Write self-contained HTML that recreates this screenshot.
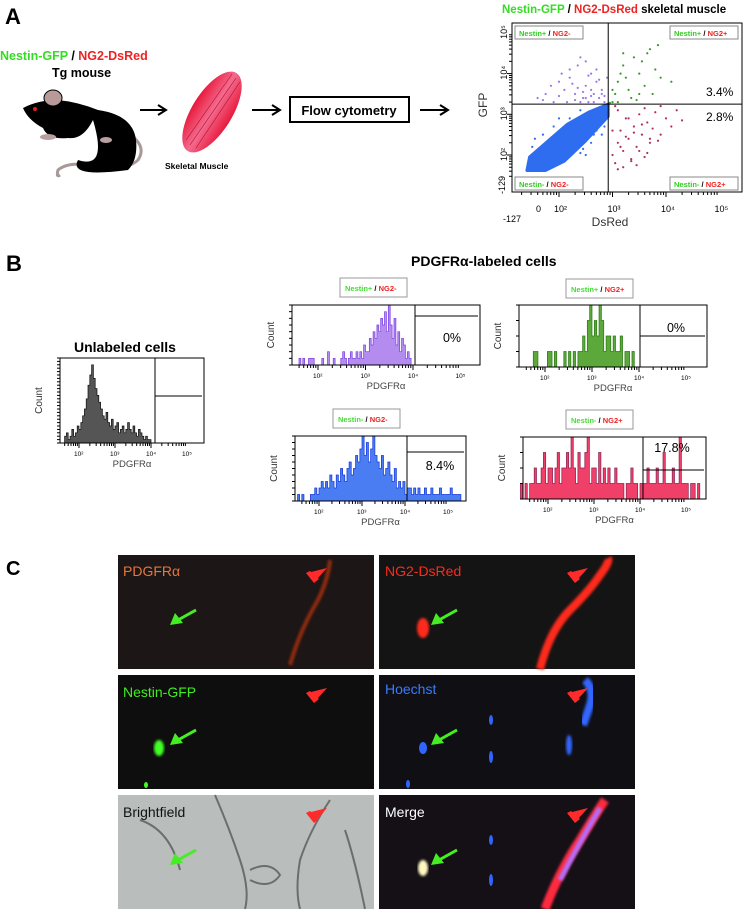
<!DOCTYPE html>
<html><head><meta charset="utf-8">
<style>
html,body{margin:0;padding:0;background:#fff;}
svg{display:block;font-family:"Liberation Sans",Arial,sans-serif;}
.b{font-weight:bold;}
</style></head>
<body>
<svg id="fig" width="750" height="909" viewBox="0 0 750 909" xmlns="http://www.w3.org/2000/svg">
<defs>
<filter id="blur2"><feGaussianBlur stdDeviation="2"/></filter>
<filter id="blur1"><feGaussianBlur stdDeviation="1.2"/></filter>
<linearGradient id="mus" x1="0" y1="0" x2="1" y2="0"><stop offset="0" stop-color="#e8193c"/><stop offset="0.5" stop-color="#f36b8e"/><stop offset="1" stop-color="#e8193c"/></linearGradient>
</defs>

<!-- Panel A -->
<text x="5" y="24" font-size="22" class="b">A</text>
<text x="0" y="60" font-size="12.5" class="b"><tspan fill="#33dd22">Nestin-GFP</tspan><tspan fill="#000"> / </tspan><tspan fill="#ee2222">NG2-DsRed</tspan></text>
<text x="52" y="77" font-size="12.5" class="b">Tg mouse</text>
<g transform="translate(-2,20)">
  <path d="M128,112 Q150,125 140,140 Q128,152 90,145 Q70,142 60,150 Q58,158 62,155" fill="none" stroke="#a89898" stroke-width="3"/>
  <path d="M95,100 Q110,150 80,140 Q70,158 130,150 Q140,140 138,120 Q135,95 100,90 Q80,82 60,80 Q40,80 25,88 Q30,100 45,108 Q50,120 70,118 Q85,120 95,100Z" fill="#000"/>
  <ellipse cx="55" cy="78" rx="9" ry="8" fill="#b89a9a" stroke="#000" stroke-width="1"/>
  <circle cx="37" cy="89" r="2" fill="#e02020"/>
  <ellipse cx="50" cy="117" rx="8" ry="3" fill="#b8a0a0"/>
  <ellipse cx="108" cy="120" rx="6" ry="3" fill="#b8a0a0"/>
</g>
<g><line x1="140" y1="110" x2="164" y2="110" stroke="#000" stroke-width="2"/><path d="M158,105 L166,110 L158,115" fill="none" stroke="#000" stroke-width="2"/></g>
<g>
  <ellipse cx="212" cy="112" rx="20" ry="46" transform="rotate(32 212 112)" fill="url(#mus)"/>
  <path d="M190,145 L236,78 M196,148 L240,82 M186,140 L232,74" stroke="#b0102a" stroke-width="0.6"/>
</g>
<text x="165" y="169" font-size="8.5" class="b">Skeletal Muscle</text>
<g><line x1="252" y1="110" x2="278" y2="110" stroke="#000" stroke-width="2"/><path d="M272,105 L280,110 L272,115" fill="none" stroke="#000" stroke-width="2"/></g>
<rect x="290" y="97" width="119" height="25" fill="#fff" stroke="#000" stroke-width="2"/>
<text x="349" y="115" font-size="13" class="b" text-anchor="middle">Flow cytometry</text>
<g><line x1="420" y1="110" x2="446" y2="110" stroke="#000" stroke-width="2"/><path d="M440,105 L448,110 L440,115" fill="none" stroke="#000" stroke-width="2"/></g>

<text x="502" y="13" font-size="11.5" class="b"><tspan fill="#33dd22">Nestin-GFP</tspan> / <tspan fill="#ee2222">NG2-DsRed</tspan> skeletal muscle</text>
<g id="scatter"></g>

<!-- Panel B -->
<text x="6" y="271" font-size="22" class="b">B</text>
<text x="411" y="266" font-size="14" class="b">PDGFRα-labeled cells</text>
<text x="74" y="352" font-size="14" class="b">Unlabeled cells</text>
<g id="hists"></g>

<!-- Panel C -->
<text x="6" y="575" font-size="20" class="b">C</text>
<g>
  <rect x="118" y="555" width="256" height="114" fill="#1c1616"/>
  <path d="M290,665 Q300,630 318,600 Q328,580 330,560" stroke="#b03010" stroke-width="4" fill="none" filter="url(#blur1)" opacity="0.8"/>
  <text x="123" y="576" font-size="14" fill="#e8763a">PDGFRα</text>
</g>
<g>
  <rect x="379" y="555" width="256" height="114" fill="#141414"/>
  <path d="M540,669 Q550,630 570,610 Q590,590 600,575 Q610,562 608,558" stroke="#ff2a1a" stroke-width="8" fill="none" filter="url(#blur1)"/>
  <ellipse cx="423" cy="628" rx="6" ry="10" fill="#ff2a1a" filter="url(#blur1)"/>
  <text x="385" y="576" font-size="14" fill="#ff2a1a">NG2-DsRed</text>
</g>
<g>
  <rect x="118" y="675" width="256" height="114" fill="#0e0e0e"/>
  <ellipse cx="159" cy="748" rx="5" ry="8" fill="#40ff20" filter="url(#blur1)"/>
  <ellipse cx="146" cy="785" rx="2" ry="3" fill="#40ff20"/>
  <text x="123" y="697" font-size="14" fill="#40ee20">Nestin-GFP</text>
</g>
<g>
  <rect x="379" y="675" width="256" height="114" fill="#101014"/>
  <path d="M585,680 Q595,690 590,705 Q585,720 583,725" stroke="#3066ff" stroke-width="8" fill="none" filter="url(#blur1)"/>
  <ellipse cx="423" cy="748" rx="4" ry="6" fill="#3066ff"/>
  <ellipse cx="569" cy="745" rx="3" ry="10" fill="#3066ff" filter="url(#blur1)"/>
  <ellipse cx="491" cy="720" rx="2" ry="5" fill="#3066ff"/>
  <ellipse cx="491" cy="757" rx="2" ry="6" fill="#3066ff"/>
  <ellipse cx="408" cy="784" rx="2" ry="4" fill="#3066ff"/>
  <text x="385" y="694" font-size="14" fill="#3a7aff">Hoechst</text>
</g>
<g>
  <rect x="118" y="795" width="256" height="114" fill="#b9bdbb"/>
  <path d="M215,795 Q230,830 240,860 Q250,890 245,909 M250,870 Q270,860 280,875 Q270,890 250,880 M330,800 Q310,830 300,860 Q295,890 300,909 M140,820 Q170,830 180,870 M345,830 Q355,860 365,909" stroke="#6a6e6c" stroke-width="2" fill="none"/>
  <text x="123" y="817" font-size="14" fill="#111">Brightfield</text>
</g>
<g>
  <rect x="379" y="795" width="256" height="114" fill="#141016"/>
  <path d="M545,909 Q560,870 580,840 Q595,815 605,800" stroke="#ff2a40" stroke-width="9" fill="none" filter="url(#blur1)"/>
  <path d="M560,880 Q578,845 600,808" stroke="#b070ff" stroke-width="5" fill="none" filter="url(#blur1)"/>
  <ellipse cx="423" cy="868" rx="5" ry="8" fill="#fff8c0" filter="url(#blur1)"/>
  <ellipse cx="491" cy="840" rx="2" ry="5" fill="#3066ff"/>
  <ellipse cx="491" cy="880" rx="2" ry="6" fill="#3066ff"/>
  <text x="385" y="817" font-size="14" fill="#fff">Merge</text>
</g>
<g id="arrows"></g>
</svg>

<script>
// ---------- Scatter data (log10 units) ----------
const purpleX=[1.6,1.75,1.9,2.0,2.1,2.2,2.3,2.35,2.45,2.5,2.55,2.6,2.65,2.7,2.75,2.8,2.85,2.4,2.2,2.0,1.85,2.3,2.5,2.6,2.7,2.45,2.15,2.9,2.35,2.55,2.65,2.8,2.05,1.7,2.25,2.6,2.75,2.4,2.5,2.85];
const purpleY=[3.4,3.5,3.3,3.8,3.6,3.9,3.5,4.2,3.4,3.7,3.3,4.0,3.5,3.8,3.4,3.6,3.3,4.4,4.1,3.45,3.7,3.35,4.3,3.45,4.1,3.55,3.3,3.9,3.65,3.95,3.3,3.5,4.0,3.35,3.75,3.6,3.85,3.3,3.4,3.45];
const greenX=[3.0,3.05,3.1,3.2,3.3,3.4,3.5,3.6,3.7,3.8,3.9,3.35,3.15,3.55,3.75,3.25,3.45,3.65,3.0,2.95,3.1,3.85,3.5,3.2,4.1];
const greenY=[3.3,3.5,3.8,4.2,3.6,4.4,4.0,3.7,4.6,4.1,3.9,3.4,4.0,4.3,3.5,3.9,3.35,4.5,3.6,3.28,3.3,4.7,3.5,4.5,3.8];
const maroonX=[3.0,3.05,3.1,3.15,3.2,3.25,3.3,3.35,3.4,3.45,3.5,3.55,3.6,3.65,3.7,3.75,3.8,3.9,4.0,4.1,4.2,3.1,3.3,3.5,3.7,3.2,3.4,3.6,3.0,3.15,3.35,3.55,3.05,3.25,3.45,3.65,3.85,4.3,3.9,3.1];
const maroonY=[2.0,1.8,2.3,2.6,2.1,2.9,2.4,1.9,2.7,2.2,3.0,2.5,1.95,2.8,2.3,2.65,3.05,2.5,2.9,2.7,3.1,3.1,2.9,2.1,2.4,1.7,2.55,3.15,2.6,2.2,1.85,2.75,3.2,2.45,1.75,2.05,2.35,2.85,3.2,1.65];
const blueCoreX=[1.4,1.75,2.1,2.5,2.92,2.92,2.55,2.15,1.8,1.45];
const blueCoreY=[1.62,1.62,1.85,2.35,2.95,3.25,3.05,2.75,2.35,1.95];
const blueX=[1.5,1.7,1.9,2.0,2.2,2.3,2.4,2.5,2.6,2.7,2.8,2.85,1.6,1.8,2.1,2.35,2.55,2.75,2.0,2.25,2.45,2.65,1.55,1.95,2.15,2.4,2.6,2.85,2.7,2.9,1.65,2.05];
const blueY=[2.2,2.5,2.7,2.4,2.9,2.2,3.1,2.0,2.3,2.6,2.5,2.9,1.75,2.0,2.1,2.6,2.8,3.1,2.9,2.45,2.15,2.5,2.4,2.25,2.35,2.05,2.55,2.7,2.85,3.05,2.1,2.6];
const quadPct=["3.4%","2.8%"];
const sxTicks=["10²","10³","10⁴","10⁵"];

// ---------- Histogram data ----------
const unlabeledCounts=[2,3,1,2,4,2,3,5,4,6,8,10,13,17,20,23,19,16,14,12,10,8,7,9,6,5,7,4,5,6,3,4,5,3,4,6,4,3,5,3,2,4,3,2,1,2,1,1,0,0];
const npNmCounts=[1,0,1,0,0,1,1,1,0,0,0,0,1,0,0,2,0,0,1,0,0,0,1,2,1,0,1,2,1,1,2,1,2,1,3,2,2,4,3,5,4,6,5,7,6,8,5,9,6,4,7,3,5,2,4,3,1,2,1,0];
const npNpCounts=[0,0,0,1,1,0,0,0,0,1,1,0,1,0,0,0,1,0,1,0,1,0,1,1,2,1,3,4,2,3,2,4,3,1,2,2,1,2,1,1,2,0,1,1,0,1,0,0];
const nmNmCounts=[1,0,1,0,0,0,1,1,2,1,2,3,2,3,2,4,3,2,4,3,5,4,3,5,6,4,5,7,6,8,10,7,9,6,8,10,7,6,5,7,4,5,6,4,3,5,2,3,2,3,1,2,2,1,2,1,2,1,1,2,1,1,2,1,1,1,2,1,1,1,1,2,1,1,1,1];
const nmNpCounts=[1,0,1,0,1,1,2,1,1,2,3,1,2,2,1,2,3,1,2,2,3,2,4,2,1,3,2,2,3,4,1,2,2,1,3,1,2,1,2,1,1,2,1,1,1,0,1,1,2,1,1,0,1,1,1,2,1,1,1,2,1,1,3,1,1,1,2,1,1,4,1,1,1,0,1,1,0,1];
const histPct=["0%","0%","8.4%","17.8%"];

const NS="http://www.w3.org/2000/svg";
function mk(tag,attrs,parent){const e=document.createElementNS(NS,tag);for(const k in attrs)e.setAttribute(k,attrs[k]);parent.appendChild(e);return e;}

// ---------- Scatter ----------
(function(){
  const g=document.getElementById('scatter');
  const X=lv=>559+(lv-2)*53.5, Y=lv=>155-(lv-2)*40.7;
  const L=512,R=742,T=23,B=192;
  const core=mk('polygon',{points:blueCoreX.map((x,i)=>X(x)+','+Y(blueCoreY[i])).join(' '),fill:'#2f6df0',stroke:'#2f6df0','stroke-width':3,'stroke-linejoin':'round'},g);
  
  
  const pops=[[blueX,blueY,'#2f6df0','point-nestin-neg-ng2-neg'],[purpleX,purpleY,'#9a78e8','point-nestin-pos-ng2-neg'],[greenX,greenY,'#3a9a2a','point-nestin-pos-ng2-pos'],[maroonX,maroonY,'#b03060','point-nestin-neg-ng2-pos']];
  pops.forEach(p=>{p[0].forEach((x,i)=>{const c=mk('circle',{cx:X(x),cy:Y(p[1][i]),r:1.1,fill:p[2]},g);
    
    });});
  const box=mk('rect',{x:L,y:T,width:R-L,height:B-T,fill:'none',stroke:'#000','stroke-width':1},g);
  
  
  mk('line',{x1:X(2.92),y1:T,x2:X(2.92),y2:B,stroke:'#000'},g);
  mk('line',{x1:L,y1:Y(3.25),x2:R,y2:Y(3.25),stroke:'#000'},g);
  const ql=[[515,26,'Nestin+','NG2-'],[670,26,'Nestin+','NG2+'],[515,177,'Nestin-','NG2-'],[670,177,'Nestin-','NG2+']];
  ql.forEach(q=>{const r=mk('rect',{x:q[0],y:q[1],width:68,height:13,fill:'#fff',stroke:'#888'},g);
    
    
    const t=mk('text',{x:q[0]+4,y:q[1]+10,'font-size':7.5,'font-weight':'bold'},g);
    
    
    t.innerHTML='<tspan fill="#33cc22">'+q[2]+'</tspan> / <tspan fill="#ee2222">'+q[3]+'</tspan>';});
  [[quadPct[0],96],[quadPct[1],121]].forEach(p=>{const t=mk('text',{x:706,y:p[1],'font-size':12},g);t.textContent=p[0];
    
    });
  for(let d=2;d<=5;d++){for(let m=1;m<10;m++){const lv=d-1+Math.log10(m);if(lv<1.2)continue;const x=X(lv);
      mk('line',{x1:x,y1:B,x2:x,y2:B+(m==1?5:3),stroke:'#000'},g);}
    const t=mk('text',{x:X(d)-5,y:B+20,'font-size':9},g);t.textContent=sxTicks[d-2];
    
    
    const ty=mk('text',{x:0,y:0,'font-size':9,transform:'translate('+(L-5)+','+(Y(d)+6)+') rotate(-90)'},g);ty.textContent=sxTicks[d-2];
    
    
    for(let m=1;m<10;m++){const lv=d-1+Math.log10(m);if(lv<1.4)continue;mk('line',{x1:L-(m==1?5:3),y1:Y(lv),x2:L,y2:Y(lv),stroke:'#000'},g);}
  }
  [['0',536,B+20],['-127',503,B+30]].forEach(a=>{const t=mk('text',{x:a[1],y:a[2],'font-size':9},g);t.textContent=a[0];
    
    });
  const ty2=mk('text',{x:0,y:0,'font-size':9,transform:'translate(505,'+(B+2)+') rotate(-90)'},g);ty2.textContent='-129';
  
  
  const xl=mk('text',{x:610,y:226,'font-size':12,'text-anchor':'middle',fill:'#333'},g);xl.textContent='DsRed';
  
  
  const yl=mk('text',{x:0,y:0,'font-size':12,'text-anchor':'middle',fill:'#333',transform:'translate(487,105) rotate(-90)'},g);yl.textContent='GFP';
  
  
})();

// ---------- Histograms ----------
const histSpecs=[
 {name:'hist-unlabeled',counts:unlabeledCounts,start:1.6,step:0.05,ymax:25,L:60,R:204,T:358,B:443,dec2:79,decW:36,div:155,hl:396,fill:'#555',stroke:'#111',label:null,pct:null},
 {name:'hist-nestin-pos-ng2-neg',counts:npNmCounts,start:1.6,step:0.04,ymax:9,L:292,R:480,T:305,B:365,dec2:318,decW:47.5,div:415,hl:316,fill:'#b48cf0',stroke:'#7a3ee0',label:['Nestin+','NG2-',340,278],pct:histPct[0],px:452,py:342},
 {name:'hist-nestin-pos-ng2-pos',counts:npNpCounts,start:1.6,step:0.05,ymax:4,L:519,R:707,T:305,B:367,dec2:545,decW:47,div:640,hl:336,fill:'#5ca83a',stroke:'#2a7a14',label:['Nestin+','NG2+',566,279],pct:histPct[1],px:676,py:332},
 {name:'hist-nestin-neg-ng2-neg',counts:nmNmCounts,start:1.5,step:0.05,ymax:10,L:295,R:466,T:436,B:501,dec2:319,decW:43,div:407,hl:452,fill:'#4a7cf2',stroke:'#1438d8',label:['Nestin-','NG2-',333,409],pct:histPct[2],px:440,py:470},
 {name:'hist-nestin-neg-ng2-pos',counts:nmNpCounts,start:1.4,step:0.05,ymax:4,L:523,R:706,T:437,B:499,dec2:548,decW:46,div:643,hl:470,fill:'#f0406a',stroke:'#8a2050',label:['Nestin-','NG2+',566,410],pct:histPct[3],px:672,py:452}
];
(function(){
 const root=document.getElementById('hists');
 histSpecs.forEach(s=>{
  const g=mk('g',{},root);
  
  
  const X=lv=>s.dec2+(lv-2)*s.decW, Y=v=>s.B-v/s.ymax*(s.B-s.T);
  let d='M'+X(s.start)+','+s.B;
  s.counts.forEach((c,i)=>{const x0=X(s.start+i*s.step),x1=X(s.start+(i+1)*s.step);d+=' L'+x0+','+Y(c)+' L'+x1+','+Y(c);});
  d+=' L'+X(s.start+s.counts.length*s.step)+','+s.B+'Z';
  const p=mk('path',{d:d,fill:s.fill,stroke:s.stroke,'stroke-width':0.7},g);
  
  
  mk('rect',{x:s.L,y:s.T,width:s.R-s.L,height:s.B-s.T,fill:'none',stroke:'#000'},g);
  mk('line',{x1:s.div,y1:s.T,x2:s.div,y2:s.B,stroke:'#000'},g);
  mk('line',{x1:s.div,y1:s.hl,x2:s.R-2,y2:s.hl,stroke:'#000'},g);
  for(let dd=2;dd<=5;dd++){for(let m=1;m<10;m++){const x=X(dd-1+Math.log10(m));if(x<s.L+2||x>s.R)continue;mk('line',{x1:x,y1:s.B,x2:x,y2:s.B+(m==1?5:3),stroke:'#000'},g);}
    const t=mk('text',{x:X(dd)-5,y:s.B+13,'font-size':6.5},g);t.textContent=sxTicks[dd-2];
    
    }
  for(let k=0;k<=s.ymax;k++){const y=Y(k);mk('line',{x1:s.L-3,y1:y,x2:s.L,y2:y,stroke:'#000'},g);}
  const xl=mk('text',{x:(s.L+s.R)/2,y:s.B+24,'font-size':9.5,'text-anchor':'middle',fill:'#444'},g);xl.textContent='PDGFRα';
  
  
  const yl=mk('text',{x:0,y:0,'font-size':10,'text-anchor':'middle',fill:'#333',transform:'translate('+(s.L-18)+','+((s.T+s.B)/2)+') rotate(-90)'},g);yl.textContent='Count';
  
  
  if(s.label){const r=mk('rect',{x:s.label[2],y:s.label[3],width:67,height:19,fill:'#fff',stroke:'#999'},g);
    
    
    const t=mk('text',{x:s.label[2]+5,y:s.label[3]+13,'font-size':7.5,'font-weight':'bold'},g);
    
    
    t.innerHTML='<tspan fill="#44dd33">'+s.label[0]+'</tspan> / <tspan fill="#ee2222">'+s.label[1]+'</tspan>';}
  if(s.pct){const t=mk('text',{x:s.px,y:s.py,'font-size':12.5,'text-anchor':'middle'},g);t.textContent=s.pct;
    
    }
 });
})();

// ---------- Micrograph arrows ----------
(function(){
 const g=document.getElementById('arrows');
 const offs=[[118,555],[379,555],[118,675],[379,675],[118,795],[379,795]];
 offs.forEach(o=>{
  const ga=mk('g',{transform:'translate('+o[0]+','+o[1]+')'},g);
  
  
  mk('line',{x1:78,y1:55,x2:60,y2:65,stroke:'#44ee22','stroke-width':3},ga);
  mk('polygon',{points:'52,70 57,58 65,68',fill:'#44ee22'},ga);
  const ra=mk('polygon',{points:'209,13 193,17 199,24',fill:'#ff2a2a',transform:'translate('+o[0]+','+o[1]+')'},g);
  mk('polygon',{points:'192,16 201,24 196,28 188,18',fill:'#ff2a2a',transform:'translate('+o[0]+','+o[1]+')'},g);
  
  
 });
})();
</script>
</body></html>
